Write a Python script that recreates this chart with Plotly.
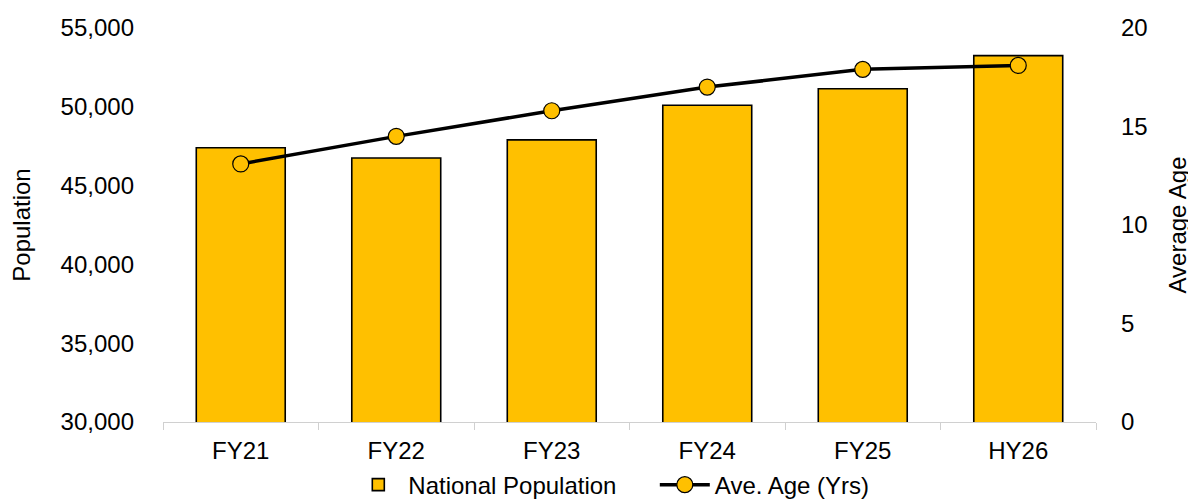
import plotly.graph_objects as go

categories = ["FY21", "FY22", "FY23", "FY24", "FY25", "HY26"]
population = [47400, 46750, 47900, 50100, 51150, 53250]
avg_age = [13.1, 14.5, 15.8, 17.0, 17.9, 18.1]

pop_ticks = [30000, 35000, 40000, 45000, 50000, 55000]
age_ticks = [0, 5, 10, 15, 20]

bar_name = "National Population"
line_name = "Ave. Age (Yrs)"

font_family = "Liberation Sans, Arial, Helvetica, sans-serif"

fig = go.Figure()
fig.add_trace(go.Bar(
    x=categories, y=population, name=bar_name + "\u00a0" * 5,
    marker=dict(color="#FFC000", line=dict(color="#000000", width=1.6)),
    width=0.572, yaxis="y",
))
fig.add_trace(go.Scatter(
    x=categories, y=avg_age, name=line_name, mode="lines+markers",
    line=dict(color="#000000", width=3.5),
    marker=dict(color="#FFC000", size=16, line=dict(color="#000000", width=1.2)),
    yaxis="y2",
))

fig.update_layout(
    width=1196, height=500,
    margin=dict(l=155, r=108, t=20, b=86, autoexpand=False),
    paper_bgcolor="white", plot_bgcolor="white",
    font=dict(family=font_family, size=24, color="#000000"),
    showlegend=True,
    legend=dict(orientation="h", x=0.4805, xanchor="center", y=-0.16, yanchor="middle",
                font=dict(size=24), itemwidth=50, traceorder="normal",
                bgcolor="rgba(0,0,0,0)"),
    xaxis=dict(
        showline=True, linecolor="#D0D0D0", linewidth=1.2,
        ticks="outside", tickson="boundaries", ticklen=7, tickcolor="#D0D0D0",
        showgrid=False, tickfont=dict(size=24), automargin=False,
        ticklabelstandoff=7,
    ),
    yaxis=dict(
        range=[30000, 55000], tickvals=pop_ticks,
        ticktext=[f"{v:,}" for v in pop_ticks],
        showgrid=False, showline=False, zeroline=False,
        title=dict(text="Population", font=dict(size=24), standoff=24),
        tickfont=dict(size=24), ticks="", ticklabelstandoff=28, automargin=False,
    ),
    yaxis2=dict(
        range=[0, 20], tickvals=age_ticks, overlaying="y", side="right",
        showgrid=False, showline=False, zeroline=False,
        title=dict(text="Average Age", font=dict(size=24), standoff=22),
        tickfont=dict(size=24), ticks="", ticklabelstandoff=24, automargin=False,
    ),
)

fig.write_html("out.html")
